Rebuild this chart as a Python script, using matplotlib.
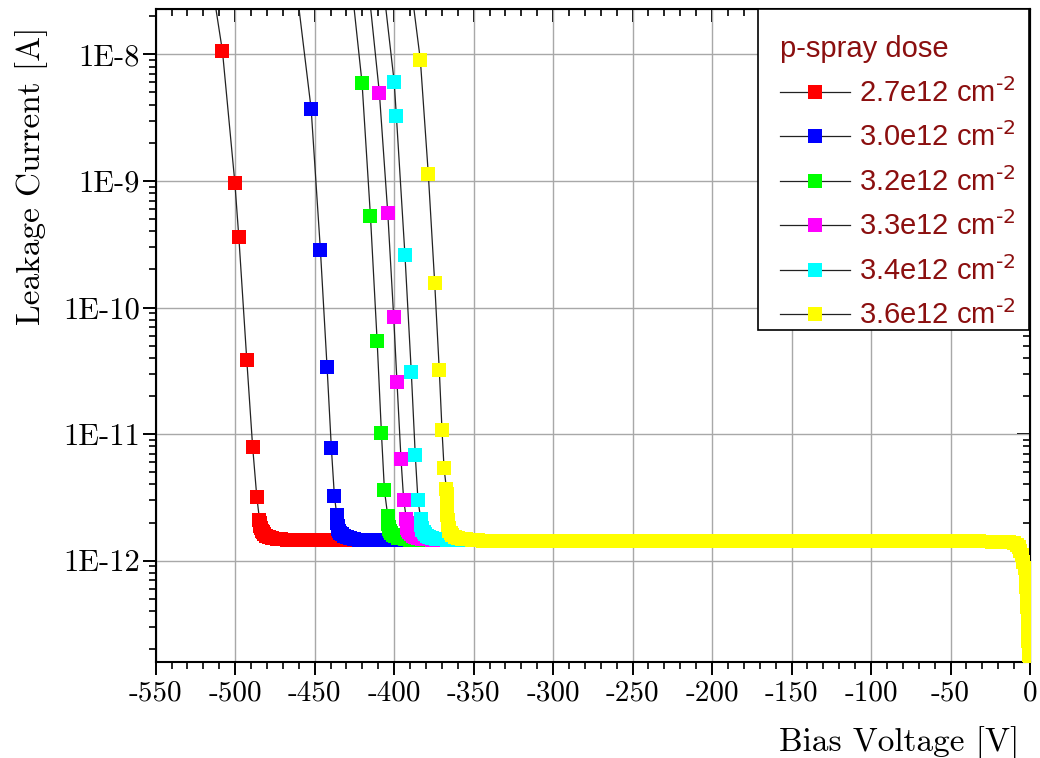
import numpy as np
import matplotlib.pyplot as plt
from matplotlib.lines import Line2D
from matplotlib.patches import Rectangle
from matplotlib.ticker import LogLocator, MultipleLocator, NullFormatter

plt.rcParams['axes.unicode_minus'] = False

# --- data: bias voltage [V], leakage current [A] ---
# breakdown part + knee of every device (first point sits above the axis top)
red_v = [-520.0, -508.0, -500.2, -497.7, -492.7, -489.0, -486.4,
         -484.7, -484.6, -484.4, -484.0, -483.4, -482.6, -481.6, -480.3,
         -478.6, -476.6, -474.0, -471.0, -467.5, -463.5]
red_i = [1.0e-7, 1.06e-8, 9.7e-10, 3.6e-10, 3.85e-11, 7.9e-12, 3.2e-12,
         2.11e-12, 1.98e-12, 1.88e-12, 1.80e-12, 1.73e-12, 1.67e-12, 1.62e-12, 1.58e-12,
         1.54e-12, 1.51e-12, 1.49e-12, 1.47e-12, 1.46e-12, 1.45e-12]

blue_v = [-466.0, -452.2, -446.4, -442.2, -439.5, -437.6,
          -436.1, -436.0, -435.9, -435.6, -435.2, -434.6, -433.8, -432.8,
          -431.5, -429.8, -427.8, -425.2, -422.0, -418.0]
blue_i = [1.0e-7, 3.7e-9, 2.87e-10, 3.4e-11, 7.8e-12, 3.27e-12,
          2.3e-12, 2.12e-12, 1.98e-12, 1.87e-12, 1.79e-12, 1.72e-12, 1.66e-12, 1.61e-12,
          1.57e-12, 1.53e-12, 1.50e-12, 1.48e-12, 1.46e-12, 1.45e-12]

green_v = [-430.6, -420.2, -414.9, -410.7, -408.0, -406.1,
           -404.0, -403.9, -403.8, -403.5, -403.1, -402.5, -401.7, -400.7,
           -399.4, -397.7, -395.7, -393.1, -390.0]
green_i = [1.0e-7, 5.97e-9, 5.26e-10, 5.45e-11, 1.02e-11, 3.59e-12,
           2.25e-12, 2.08e-12, 1.95e-12, 1.85e-12, 1.77e-12, 1.70e-12, 1.64e-12, 1.60e-12,
           1.56e-12, 1.52e-12, 1.50e-12, 1.48e-12, 1.46e-12]

magenta_v = [-420.0, -409.3, -404.0, -400.3, -398.2, -395.7, -394.0,
             -392.3, -392.2, -392.0, -391.7, -391.2, -390.5, -389.6, -388.4,
             -386.9, -385.0, -382.6, -379.6, -376.0, -372.0]
magenta_i = [1.0e-7, 4.98e-9, 5.56e-10, 8.45e-11, 2.57e-11, 6.4e-12, 3.0e-12,
             2.15e-12, 2.0e-12, 1.9e-12, 1.81e-12, 1.74e-12, 1.68e-12, 1.63e-12, 1.58e-12,
             1.54e-12, 1.51e-12, 1.49e-12, 1.47e-12, 1.46e-12, 1.45e-12]

cyan_v = [-411.0, -400.0, -398.6, -393.2, -389.2, -386.7, -385.0,
          -383.3, -383.2, -383.0, -382.7, -382.2, -381.5, -380.6, -379.4,
          -377.9, -376.0, -373.6, -370.6, -367.0, -363.0]
cyan_i = [1.0e-7, 6.1e-9, 3.27e-9, 2.6e-10, 3.07e-11, 6.8e-12, 2.99e-12,
          2.15e-12, 2.0e-12, 1.9e-12, 1.81e-12, 1.74e-12, 1.68e-12, 1.63e-12, 1.58e-12,
          1.54e-12, 1.51e-12, 1.49e-12, 1.47e-12, 1.46e-12, 1.45e-12]

yellow_v = [-394.0, -383.5, -378.5, -374.5, -371.6, -369.9, -368.6,
            -367.1, -367.0, -366.9, -366.8, -366.7, -366.6, -366.4, -366.2,
            -365.8, -365.2, -364.4, -363.3, -361.9, -360.0, -357.6, -354.6,
            -351.0, -347.0]
yellow_i = [1.0e-7, 9.0e-9, 1.13e-9, 1.57e-10, 3.2e-11, 1.08e-11, 5.37e-12,
            3.7e-12, 3.35e-12, 3.05e-12, 2.78e-12, 2.52e-12, 2.28e-12, 2.08e-12, 1.93e-12,
            1.82e-12, 1.73e-12, 1.66e-12, 1.60e-12, 1.55e-12, 1.52e-12, 1.49e-12, 1.47e-12,
            1.46e-12, 1.45e-12]

# flat part down to 0 V, the same for all six devices (they lie on top of each other)
tail_v = [-456, -448, -440, -432, -424, -416, -408, -400, -392, -384, -376, -368, -360, -352,
          -344, -336, -328, -320, -312, -304, -296, -288, -280, -272, -264, -256, -248, -240,
          -232, -224, -216, -208, -200, -192, -184, -176, -168, -160, -152, -144, -136, -128,
          -120, -112, -104, -96, -88, -80, -72, -64, -56, -48, -40, -32, -24, -17,
          -13.0, -10.3, -8.5, -7.1, -6.0, -5.0, -4.1, -3.3, -2.8, -2.3, -2.0, -1.7,
          -1.45, -1.2, -1.0, -0.8, -0.5, -0.2]
tail_pa = [1.45, 1.45, 1.45, 1.45, 1.45, 1.45, 1.45, 1.45, 1.45, 1.45, 1.45, 1.45, 1.45, 1.45,
           1.44, 1.44, 1.44, 1.44, 1.44, 1.44, 1.44, 1.44, 1.44, 1.44, 1.44, 1.44, 1.44, 1.44,
           1.43, 1.43, 1.43, 1.43, 1.43, 1.43, 1.43, 1.43, 1.43, 1.43, 1.43, 1.43, 1.43, 1.43,
           1.42, 1.42, 1.42, 1.42, 1.42, 1.42, 1.42, 1.42, 1.42, 1.42, 1.42, 1.42, 1.41, 1.41,
           1.41, 1.38, 1.34, 1.29, 1.20, 1.10, 0.98, 0.87, 0.74, 0.62, 0.52, 0.43,
           0.35, 0.28, 0.23, 0.195, 0.18, 0.175]

doses = ['2.7e12', '3.0e12', '3.2e12', '3.3e12', '3.4e12', '3.6e12']
colors = ['#ff0000', '#0000ff', '#00ff00', '#ff00ff', '#00ffff', '#ffff00']

x_ticks = [-550, -500, -450, -400, -350, -300, -250, -200, -150, -100, -50, 0]
x_labels = ['-550', '-500', '-450', '-400', '-350', '-300', '-250', '-200',
            '-150', '-100', '-50', '0']
y_ticks = [1e-12, 1e-11, 1e-10, 1e-9, 1e-8]
y_labels = ['1E-12', '1E-11', '1E-10', '1E-9', '1E-8']

series = [(red_v, red_i), (blue_v, blue_i), (green_v, green_i),
          (magenta_v, magenta_i), (cyan_v, cyan_i), (yellow_v, yellow_i)]

fig = plt.figure(figsize=(10.4, 7.58), dpi=100)
ax = fig.add_axes([0.1497, 0.127, 0.8407, 0.8607])

line_c = '#222222'
ms = 9.8
tv = np.array(tail_v)
ti = np.array(tail_pa) * 1e-12
handles = []
for (v, i), dose, c in zip(series, doses, colors):
    keep = tv > v[-1]
    vv = np.concatenate([v, tv[keep]])
    ii = np.concatenate([i, ti[keep]])
    # connecting lines below all symbols, symbols in series order on top
    ax.plot(vv, ii, color=line_c, lw=0.9, zorder=2)
    ax.plot(vv, ii, ls='none', marker='s', ms=ms, mfc=c, mec=c, mew=0, zorder=3)
    handles.append(Line2D([], [], color=line_c, lw=0.9, marker='s', ms=ms,
                          mfc=c, mec=c, mew=0,
                          label=dose + r' cm$^{\text{-2}}$'))

ax.set_yscale('log')
ax.set_xlim(-550, 0)
ax.set_ylim(1.59e-13, 2.27e-8)

serif = 'cmr10'
ax.set_xticks(x_ticks, x_labels, fontfamily=serif, fontsize=21)
ax.set_yticks(y_ticks, y_labels, fontfamily=serif, fontsize=22)
ax.xaxis.set_minor_locator(MultipleLocator(10))
ax.yaxis.set_minor_locator(LogLocator(base=10, subs=np.arange(2, 10), numticks=30))
ax.yaxis.set_minor_formatter(NullFormatter())
ax.tick_params(which='major', direction='out', length=9.5, width=1.4, pad=4)
ax.tick_params(which='minor', direction='out', length=5, width=1.2)
ax.tick_params(axis='y', which='major', pad=2)

ax.grid(True, which='major', color='#a8a8a8', lw=1.0)
ax.set_axisbelow(True)
for s in ax.spines.values():
    s.set_linewidth(1.5)

# top / right ticks point inwards
top = ax.secondary_xaxis('top')
top.set_xticks(x_ticks)
top.xaxis.set_minor_locator(MultipleLocator(10))
top.tick_params(which='major', direction='in', length=9.5, width=1.4, labeltop=False)
top.tick_params(which='minor', direction='in', length=5, width=1.2)
right = ax.secondary_yaxis('right')
right.set_yticks(y_ticks)
right.yaxis.set_minor_locator(LogLocator(base=10, subs=np.arange(2, 10), numticks=30))
right.yaxis.set_minor_formatter(NullFormatter())
right.tick_params(which='major', direction='in', length=9.5, width=1.4, labelright=False)
right.tick_params(which='minor', direction='in', length=5, width=1.2)

ax.set_xlabel('Bias Voltage [V]', fontfamily=serif, fontsize=24)
ax.set_ylabel('Leakage Current [A]', fontfamily=serif, fontsize=24)
ax.xaxis.set_label_coords(0.85, -0.099)
ax.yaxis.set_label_coords(-0.123, 0.745)

# legend box drawn separately: it sits against the top spine with little padding at the bottom
ax.add_patch(Rectangle((0.689, 0.5084), 0.3102, 0.4916, transform=ax.transAxes,
                       facecolor='white', edgecolor='black', lw=1.2, zorder=4))
red_txt = '#8b0f0f'
leg = ax.legend(handles=handles, title='p-spray dose', loc='upper left',
                bbox_to_anchor=(0.6907, 0.9913), frameon=False,
                borderaxespad=0,
                prop={'family': 'Liberation Sans', 'size': 21},
                title_fontproperties={'family': 'Liberation Sans', 'size': 21},
                alignment='left', handlelength=2.4, handletextpad=0.3,
                labelspacing=0.5, borderpad=0.7, labelcolor=red_txt)
leg.get_title().set_color(red_txt)
leg.set_zorder(5)

fig.savefig('out.png', dpi=100)
